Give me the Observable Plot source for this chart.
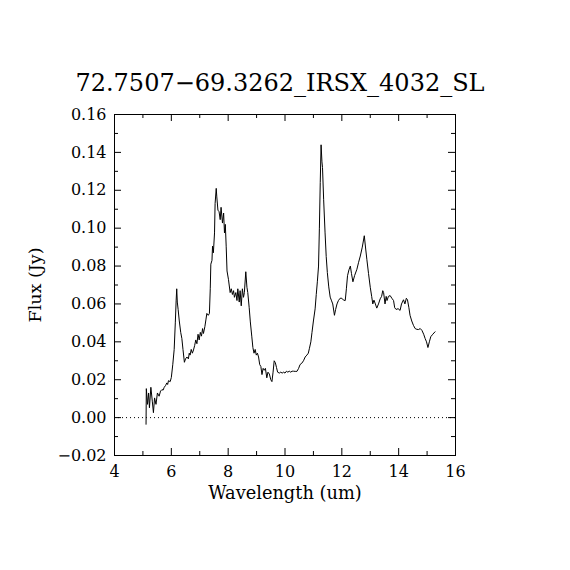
<!DOCTYPE html>
<html><head><meta charset="utf-8">
<script src="https://cdn.jsdelivr.net/npm/d3@7"></script>
<script src="https://cdn.jsdelivr.net/npm/@observablehq/plot@0.6"></script>
<style>
body{margin:0;background:#fff;}
#title{width:570px;height:100px;box-sizing:border-box;padding-top:71px;padding-right:10px;font:24px/24px "DejaVu Serif",serif;text-align:center;color:#000;}
</style></head><body>
<div id="title">72.7507−69.3262_IRSX_4032_SL</div>
<div id="chart"></div>
<script>
const titleText = "72.7507−69.3262_IRSX_4032_SL";
const xLabel = "Wavelength (um)";
const yLabel = "Flux (Jy)";

const wavelength = [5.11,5.12,5.16,5.20,5.23,5.28,5.33,5.37,5.41,5.46,5.51,5.57,5.62,5.67,5.71,5.75,5.80,5.84,5.87,5.90,5.96,6.00,6.05,6.10,6.14,6.17,6.19,6.21,6.24,6.28,6.33,6.37,6.41,6.46,6.50,6.55,6.60,6.63,6.66,6.70,6.74,6.78,6.82,6.86,6.90,6.94,6.98,7.02,7.06,7.10,7.13,7.18,7.22,7.25,7.30,7.34,7.37,7.39,7.43,7.45,7.48,7.52,7.54,7.58,7.60,7.64,7.68,7.72,7.75,7.80,7.84,7.87,7.90,7.93,7.96,8.01,8.07,8.11,8.15,8.19,8.22,8.27,8.31,8.34,8.39,8.42,8.46,8.50,8.54,8.57,8.62,8.66,8.69,8.74,8.78,8.83,8.87,8.91,8.95,8.99,9.03,9.07,9.11,9.15,9.19,9.23,9.27,9.31,9.36,9.40,9.45,9.50,9.54,9.58,9.62,9.66,9.70,9.74,9.80,9.85,9.90,9.95,10.00,10.05,10.10,10.15,10.20,10.25,10.30,10.36,10.42,10.48,10.53,10.59,10.65,10.71,10.77,10.82,10.86,10.91,10.95,11.00,11.06,11.10,11.14,11.18,11.21,11.24,11.27,11.30,11.32,11.36,11.41,11.45,11.49,11.54,11.59,11.63,11.68,11.74,11.78,11.83,11.88,11.94,12.00,12.06,12.12,12.16,12.20,12.25,12.30,12.34,12.39,12.45,12.53,12.59,12.65,12.72,12.79,12.84,12.88,12.94,13.00,13.05,13.09,13.13,13.18,13.23,13.29,13.35,13.40,13.44,13.47,13.52,13.56,13.59,13.64,13.70,13.76,13.82,13.86,13.91,13.98,14.05,14.10,14.17,14.22,14.27,14.31,14.36,14.40,14.46,14.52,14.58,14.64,14.70,14.76,14.82,14.88,14.93,14.98,15.03,15.08,15.13,15.20,15.28];
const flux = [-0.0035,0.0153,0.007,0.013,0.0052,0.016,0.0087,0.0026,0.0104,0.007,0.013,0.0113,0.014,0.0148,0.0145,0.016,0.017,0.0183,0.0175,0.0195,0.019,0.0212,0.0279,0.036,0.050,0.062,0.068,0.061,0.057,0.051,0.045,0.0418,0.036,0.0292,0.031,0.032,0.031,0.034,0.033,0.036,0.034,0.0357,0.038,0.041,0.039,0.044,0.041,0.045,0.043,0.047,0.0444,0.048,0.052,0.055,0.054,0.055,0.068,0.081,0.083,0.0905,0.087,0.0975,0.113,0.121,0.1165,0.1095,0.1087,0.1045,0.111,0.1027,0.108,0.0975,0.102,0.0905,0.0774,0.073,0.066,0.068,0.065,0.067,0.0635,0.066,0.0618,0.068,0.061,0.067,0.059,0.068,0.0635,0.066,0.077,0.0688,0.066,0.058,0.0505,0.043,0.037,0.034,0.036,0.033,0.034,0.032,0.028,0.027,0.0227,0.026,0.025,0.026,0.021,0.024,0.023,0.020,0.019,0.024,0.030,0.029,0.0265,0.024,0.0235,0.024,0.0235,0.024,0.0235,0.0245,0.024,0.0245,0.024,0.0245,0.0245,0.0244,0.0244,0.026,0.028,0.0287,0.030,0.032,0.033,0.034,0.0366,0.040,0.045,0.051,0.0574,0.065,0.072,0.080,0.100,0.124,0.144,0.135,0.132,0.115,0.0975,0.085,0.0766,0.069,0.0636,0.062,0.060,0.054,0.057,0.060,0.0618,0.063,0.063,0.062,0.0618,0.068,0.0749,0.078,0.080,0.076,0.0717,0.075,0.0783,0.082,0.0853,0.090,0.096,0.089,0.0836,0.076,0.0688,0.064,0.060,0.062,0.060,0.0578,0.060,0.0627,0.064,0.067,0.066,0.060,0.064,0.0618,0.064,0.0644,0.063,0.0618,0.058,0.0571,0.0575,0.0566,0.060,0.0622,0.060,0.063,0.0622,0.058,0.054,0.051,0.0487,0.047,0.0466,0.0465,0.047,0.046,0.044,0.0418,0.040,0.037,0.040,0.0427,0.044,0.0453];

const xTicks = [4,6,8,10,12,14,16];
const xMinor = [5,7,9,11,13,15];
const yTicks = [-0.02,0,0.02,0.04,0.06,0.08,0.10,0.12,0.14,0.16];
const yMinor = [-0.01,0.01,0.03,0.05,0.07,0.09,0.11,0.13,0.15];

const data = wavelength.map((w,i)=>({w, f: flux[i]}));

const W = 570, H = 470, mT = 14, mB = 115, mL = 114, mR = 115;
const fw = W - mL - mR, fh = H - mT - mB;
const major = 7, minor = 4;
const font = "DejaVu Serif";

const chart = Plot.plot({
  width: W, height: H,
  marginTop: mT, marginBottom: mB, marginLeft: mL, marginRight: mR,
  style: {fontFamily: font, fontSize: "16px", background: "#fff", color: "#000", overflow: "visible"},
  x: {domain: [4,16]},
  y: {domain: [-0.02,0.16]},
  marks: [
    Plot.ruleY([0], {stroke: "#000", strokeWidth: 1, strokeDasharray: "1,3"}),
    Plot.line(data, {x: "w", y: "f", stroke: "#000", strokeWidth: 1}),
    Plot.frame({stroke: "#000", strokeWidth: 1}),
    Plot.tickX(xTicks, {x: d=>d, insetTop: fh - major, stroke: "#000"}),
    Plot.tickX(xTicks, {x: d=>d, insetBottom: fh - major, stroke: "#000"}),
    Plot.tickX(xMinor, {x: d=>d, insetTop: fh - minor, stroke: "#000"}),
    Plot.tickX(xMinor, {x: d=>d, insetBottom: fh - minor, stroke: "#000"}),
    Plot.tickY(yTicks, {y: d=>d, insetRight: fw - major, stroke: "#000"}),
    Plot.tickY(yTicks, {y: d=>d, insetLeft: fw - major, stroke: "#000"}),
    Plot.tickY(yMinor, {y: d=>d, insetRight: fw - minor, stroke: "#000"}),
    Plot.tickY(yMinor, {y: d=>d, insetLeft: fw - minor, stroke: "#000"}),
    Plot.axisX(xTicks, {tickSize: 0, tickPadding: 10, fontSize: 16, fontFamily: font, fill: "#000", tickFormat: d=>String(d), label: null}),
    Plot.axisY(yTicks, {tickSize: 0, tickPadding: 8, fontSize: 16, fontFamily: font, fill: "#000", tickFormat: d3.format(".2f"), label: null}),
    Plot.text([xLabel], {text: d=>d, frameAnchor: "bottom", dy: 38, lineAnchor: "middle", fontSize: 17.8, fontFamily: font, fill: "#000"}),
    Plot.text([yLabel], {text: d=>d, frameAnchor: "left", dx: -79, rotate: -90, lineAnchor: "middle", textAnchor: "middle", fontSize: 17.5, fontFamily: font, fill: "#000"})
  ]
});
document.getElementById("chart").appendChild(chart);
</script>
</body></html>
